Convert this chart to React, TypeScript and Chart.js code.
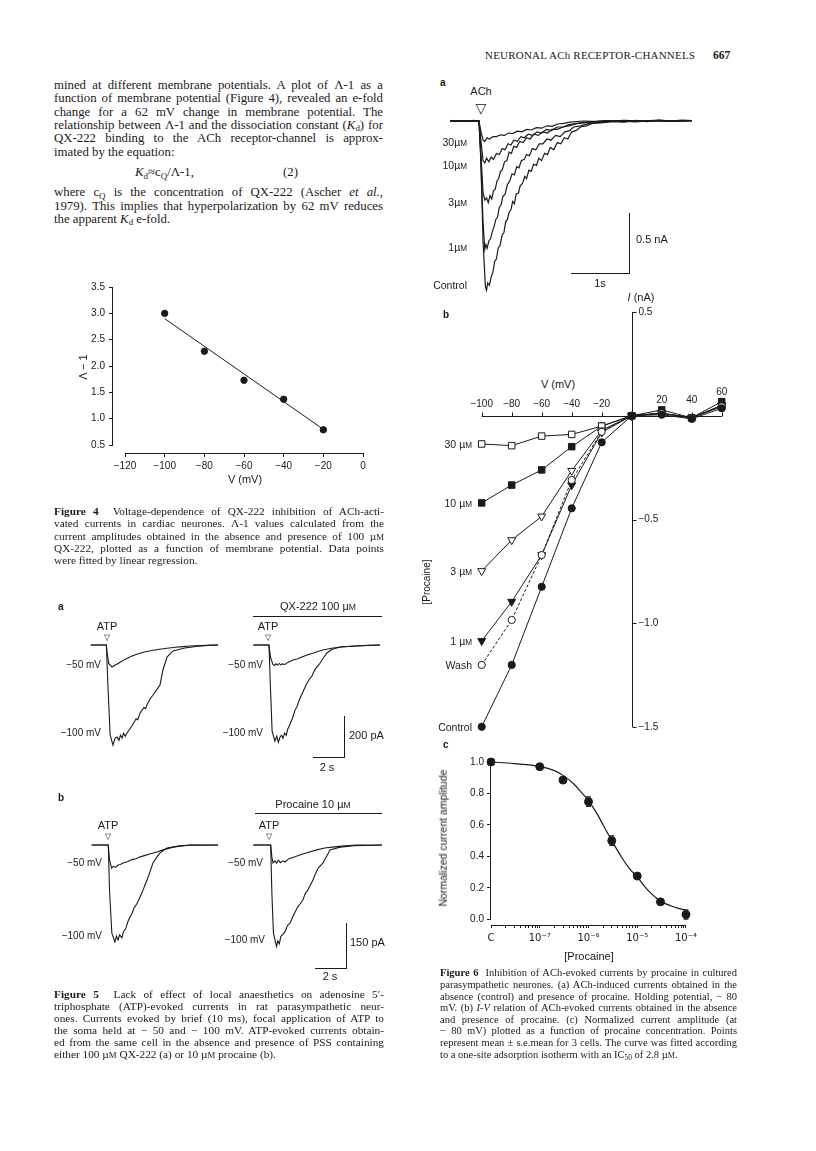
import React, { useEffect, useRef } from "react";
import { Chart, registerables } from "chart.js";
Chart.register(...registerables);

const SANS = '"Liberation Sans", Arial, Helvetica, sans-serif';
const SERIF = '"Liberation Serif", "Times New Roman", serif';
const INK = "#1a1a1a";

type Pt = [number, number];

// ---------------- Figure 4 data ----------------
const fig4Voltage = [-100, -80, -60, -40, -20];
const fig4LambdaMinus1 = [3.0, 2.28, 1.73, 1.37, 0.79];
const fig4FitVoltage = [-100, -20];
const fig4FitValues = [2.9, 0.8];
const fig4XTicks = [-120, -100, -80, -60, -40, -20, 0];
const fig4YTicks = [0.5, 1.0, 1.5, 2.0, 2.5, 3.0, 3.5];

// ---------------- Figure 6b data (I-V) ----------------
const ivVoltage = [-100, -80, -60, -40, -20, 0, 20, 40, 60];
const iv30uM = [-0.136, -0.144, -0.098, -0.09, -0.05, 0, 0.012, -0.01, 0.045];
const iv10uM = [-0.42, -0.334, -0.261, -0.149, -0.05, 0, 0.028, -0.01, 0.068];
const iv3uM = [-0.748, -0.599, -0.485, -0.265, -0.07, 0, 0.012, -0.01, 0.05];
const iv1uM = [-1.085, -0.896, -0.671, -0.334, -0.08, 0, 0.012, -0.01, 0.05];
const ivWash = [-1.201, -0.984, -0.671, -0.31, -0.077, 0, 0.012, -0.01, 0.045];
const ivControl = [-1.499, -1.201, -0.824, -0.446, -0.128, 0, 0.005, -0.015, 0.036];
const ivXTicks = [-100, -80, -60, -40, -20, 20, 40, 60];
const ivYTicks = [0.5, -0.5, -1.0, -1.5];

// ---------------- Figure 6c data (dose-response) ----------------
const doseConc = [1e-8, 1e-7, 3e-7, 1e-6, 3e-6, 1e-5, 3e-5, 1e-4];
const doseNorm = [1.0, 0.97, 0.885, 0.748, 0.5, 0.275, 0.111, 0.031];
const doseErr = [0, 0, 0, 0.03, 0.03, 0, 0, 0.03];
const fitConc = [1e-8, 3e-8, 1e-7, 2e-7, 3e-7, 5e-7, 7e-7, 1e-6, 1.5e-6, 2e-6, 3e-6, 5e-6, 7e-6, 1e-5, 1.5e-5, 2e-5, 3e-5, 5e-5, 7e-5, 1e-4];
const fitNorm = [1.0, 0.99, 0.972, 0.945, 0.915, 0.86, 0.81, 0.755, 0.67, 0.6, 0.5, 0.385, 0.32, 0.27, 0.2, 0.16, 0.115, 0.085, 0.07, 0.058];
const doseMajorTicks = [1e-8, 1e-7, 1e-6, 1e-5, 1e-4];
const doseTickLabels = ["C", "10\u207B\u2077", "10\u207B\u2076", "10\u207B\u2075", "10\u207B\u2074"];
const doseYTicks = [0, 0.2, 0.4, 0.6, 0.8, 1.0];

// ---------------- Figure 6a traces [s, nA] ----------------
const achControl: Pt[] = [[0,0.005],[0.1,-0.005],[0.2,0.004],[0.3,-0.004],[0.4,0.005],[0.5,0],[0.53,-0.3],[0.57,-1.0],[0.61,-1.38],[0.63,-1.41],[0.65,-1.35],[0.68,-1.37],[0.71,-1.3],[0.74,-1.26],[0.77,-1.17],[0.8,-1.15],[0.83,-1.06],[0.86,-1.04],[0.9,-0.95],[0.93,-0.93],[0.96,-0.84],[0.99,-0.82],[1.02,-0.76],[1.05,-0.74],[1.08,-0.67],[1.11,-0.69],[1.14,-0.61],[1.18,-0.6],[1.21,-0.54],[1.25,-0.52],[1.29,-0.46],[1.32,-0.48],[1.36,-0.41],[1.4,-0.42],[1.44,-0.36],[1.49,-0.37],[1.53,-0.31],[1.58,-0.33],[1.63,-0.27],[1.68,-0.28],[1.73,-0.22],[1.79,-0.24],[1.85,-0.18],[1.91,-0.19],[1.97,-0.14],[2.03,-0.15],[2.1,-0.09],[2.17,-0.08],[2.25,-0.05],[2.35,-0.04],[2.45,-0.02],[2.6,-0.015],[2.8,-0.005],[3.0,-0.01],[3.2,0.005],[3.4,-0.005],[3.6,0.01],[3.8,0],[4.0,0.008],[4.17,0.004]];
const ach1uM: Pt[] = [[0,0],[0.2,0.004],[0.4,-0.004],[0.5,0],[0.53,-0.3],[0.57,-0.85],[0.6,-1.07],[0.62,-1.03],[0.64,-1.06],[0.67,-1.0],[0.7,-0.98],[0.73,-0.92],[0.76,-0.88],[0.79,-0.82],[0.82,-0.8],[0.85,-0.72],[0.88,-0.7],[0.91,-0.63],[0.95,-0.61],[0.99,-0.53],[1.03,-0.5],[1.07,-0.44],[1.11,-0.45],[1.15,-0.38],[1.19,-0.39],[1.23,-0.33],[1.28,-0.32],[1.32,-0.28],[1.37,-0.29],[1.42,-0.23],[1.48,-0.24],[1.54,-0.19],[1.6,-0.19],[1.67,-0.15],[1.74,-0.16],[1.82,-0.12],[1.9,-0.13],[1.98,-0.09],[2.06,-0.08],[2.13,-0.05],[2.25,-0.04],[2.4,-0.02],[2.6,-0.01],[2.9,0],[3.2,-0.008],[3.5,0.005],[3.8,-0.004],[4.17,0.004]];
const ach3uM: Pt[] = [[0,0],[0.3,-0.004],[0.5,0],[0.53,-0.25],[0.57,-0.6],[0.6,-0.66],[0.63,-0.64],[0.66,-0.68],[0.69,-0.62],[0.72,-0.65],[0.75,-0.58],[0.78,-0.57],[0.81,-0.5],[0.84,-0.48],[0.87,-0.42],[0.9,-0.41],[0.94,-0.34],[0.98,-0.33],[1.02,-0.26],[1.06,-0.27],[1.1,-0.21],[1.15,-0.22],[1.2,-0.17],[1.26,-0.18],[1.32,-0.14],[1.38,-0.15],[1.45,-0.11],[1.52,-0.12],[1.6,-0.09],[1.68,-0.1],[1.76,-0.07],[1.85,-0.07],[1.95,-0.05],[2.05,-0.04],[2.2,-0.02],[2.4,-0.01],[2.7,0.004],[3.0,-0.005],[3.4,0.004],[3.8,-0.003],[4.17,0.002]];
const ach10uM: Pt[] = [[0,0],[0.5,0.003],[0.53,-0.15],[0.57,-0.33],[0.6,-0.35],[0.63,-0.31],[0.67,-0.34],[0.71,-0.3],[0.75,-0.32],[0.8,-0.27],[0.85,-0.28],[0.9,-0.23],[0.95,-0.24],[1.0,-0.19],[1.05,-0.2],[1.1,-0.16],[1.16,-0.17],[1.22,-0.13],[1.28,-0.14],[1.35,-0.11],[1.42,-0.12],[1.5,-0.09],[1.58,-0.1],[1.66,-0.07],[1.75,-0.08],[1.85,-0.05],[1.95,-0.05],[2.05,-0.03],[2.2,-0.02],[2.4,-0.01],[2.7,0.003],[3.1,-0.004],[3.5,0.004],[3.9,-0.002],[4.17,0.003]];
const ach30uM: Pt[] = [[0,0],[0.5,-0.003],[0.53,-0.08],[0.57,-0.16],[0.6,-0.17],[0.64,-0.14],[0.68,-0.15],[0.74,-0.13],[0.8,-0.13],[0.87,-0.115],[0.94,-0.12],[1.01,-0.1],[1.08,-0.105],[1.16,-0.085],[1.24,-0.09],[1.32,-0.07],[1.4,-0.075],[1.49,-0.055],[1.58,-0.06],[1.67,-0.04],[1.76,-0.045],[1.86,-0.025],[1.96,-0.02],[2.07,-0.01],[2.3,0],[2.6,-0.006],[3.0,0.005],[3.4,-0.003],[3.8,0.004],[4.17,0]];

// ---------------- Figure 5 traces [s, pA] ----------------
const atpA_control_m50: Pt[] = [[0,0],[0.5,0],[1.0,0],[1.05,-40],[1.15,-90],[1.36,-107],[1.5,-100],[1.7,-93],[1.9,-83],[2.06,-75],[2.3,-66],[2.6,-55],[2.9,-46],[3.15,-40],[3.5,-33],[3.9,-27],[4.4,-21],[4.87,-16],[5.4,-11],[5.9,-8],[6.34,-5],[7.0,-3],[7.6,-1],[8.13,0]];
const atpA_control_m100: Pt[] = [[0,0],[1.0,0],[1.1,-200],[1.24,-439],[1.42,-488],[1.55,-455],[1.68,-449],[1.8,-465],[1.9,-440],[2.0,-454],[2.1,-430],[2.2,-445],[2.32,-429],[2.5,-410],[2.7,-385],[2.9,-360],[3.0,-365],[3.15,-332],[3.4,-305],[3.5,-310],[3.6,-290],[3.8,-262],[3.98,-244],[4.2,-220],[4.42,-195],[4.61,-122],[4.87,-59],[5.25,-29],[6.0,-15],[6.97,-5],[7.5,-2],[8.13,0]];
const atpA_qx_m50: Pt[] = [[0,0],[1.0,0],[1.1,-60],[1.25,-95],[1.35,-100],[1.45,-92],[1.55,-98],[1.65,-90],[1.75,-97],[1.85,-92],[2.02,-95],[2.2,-85],[2.4,-78],[2.53,-73],[2.8,-68],[3.1,-58],[3.43,-49],[3.8,-40],[4.1,-32],[4.45,-24],[5.0,-16],[5.6,-10],[6.1,-7],[6.6,-5],[7.3,-2],[8.09,0]];
const atpA_qx_m100: Pt[] = [[0,0],[1.0,0],[1.1,-220],[1.2,-420],[1.38,-468],[1.5,-445],[1.6,-475],[1.7,-450],[1.8,-440],[1.9,-455],[2.0,-430],[2.1,-440],[2.2,-410],[2.35,-385],[2.53,-351],[2.65,-320],[2.79,-300],[2.95,-265],[3.1,-240],[3.25,-215],[3.43,-185],[3.6,-165],[3.75,-150],[3.9,-125],[4.06,-107],[4.2,-95],[4.35,-78],[4.5,-60],[4.7,-39],[5.0,-22],[5.53,-10],[6.2,-6],[6.8,-4],[8.09,0]];
const atpB_control_m50: Pt[] = [[0,0],[1.0,0],[1.07,0],[1.15,-50],[1.29,-76],[1.4,-70],[1.55,-73],[1.7,-66],[1.85,-64],[2.02,-59],[2.3,-55],[2.6,-48],[2.85,-45],[3.12,-39],[3.4,-35],[3.8,-29],[4.21,-23],[4.6,-16],[4.9,-12],[5.25,-7],[5.8,-3],[6.34,0],[7.2,-1],[8.15,0]];
const atpB_control_m100: Pt[] = [[0,0],[1.07,0],[1.15,-150],[1.3,-290],[1.5,-319],[1.6,-300],[1.7,-312],[1.8,-296],[1.95,-305],[2.05,-285],[2.2,-275],[2.35,-250],[2.47,-237],[2.6,-225],[2.75,-205],[2.9,-195],[3.12,-171],[3.3,-150],[3.45,-130],[3.57,-115],[3.75,-90],[3.95,-59],[4.2,-40],[4.41,-26],[4.86,-10],[5.7,-3],[6.5,0],[8.15,0]];
const atpB_proc_m50: Pt[] = [[0,0],[1.12,0],[1.2,-40],[1.27,-59],[1.4,-52],[1.5,-60],[1.62,-50],[1.75,-58],[1.9,-52],[2.03,-56],[2.3,-45],[2.6,-40],[3.0,-33],[3.5,-25],[4.1,-16],[4.6,-10],[5.1,-7],[5.9,-3],[6.7,0],[7.5,-1],[8.3,0]];
const atpB_proc_m100: Pt[] = [[0,0],[1.12,0],[1.2,-160],[1.3,-290],[1.5,-334],[1.58,-315],[1.68,-325],[1.78,-300],[1.9,-295],[2.05,-285],[2.2,-265],[2.37,-257],[2.55,-235],[2.7,-220],[2.85,-205],[3.0,-195],[3.2,-181],[3.35,-160],[3.5,-150],[3.65,-135],[3.85,-115],[4.0,-95],[4.2,-75],[4.5,-59],[4.75,-35],[4.95,-16],[5.6,-7],[6.5,-2],[8.3,0]];

// ---------------- helpers ----------------
const minus = (v: number) => (v < 0 ? "\u2212" + Math.abs(v) : String(v));
const tickFont = { family: SANS, size: 10 };

const detachedAxes = {
  id: "detachedAxes",
  afterDraw(chart: any) {
    const { ctx, chartArea, scales } = chart;
    const x = scales.x, y = scales.y;
    const xt = x.ticks, yt = y.ticks;
    ctx.save();
    ctx.strokeStyle = INK;
    ctx.lineWidth = 1;
    ctx.beginPath();
    ctx.moveTo(x.getPixelForValue(xt[0].value), chartArea.bottom + 0.5);
    ctx.lineTo(x.getPixelForValue(xt[xt.length - 1].value), chartArea.bottom + 0.5);
    ctx.moveTo(chartArea.left - 0.5, y.getPixelForValue(yt[0].value));
    ctx.lineTo(chartArea.left - 0.5, y.getPixelForValue(yt[yt.length - 1].value));
    ctx.stroke();
    ctx.restore();
  },
};

function ChartBox({ box, config }: any) {
  const ref = useRef<HTMLCanvasElement | null>(null);
  useEffect(() => {
    if (!ref.current) return;
    const chart = new Chart(ref.current, config());
    return () => chart.destroy();
  }, []);
  return (
    <canvas
      ref={ref}
      width={box.w}
      height={box.h}
      style={{ position: "absolute", left: box.l, top: box.t, width: box.w, height: box.h }}
    />
  );
}

function traceConfig(frame: any, traces: Pt[][], lw = 1.1) {
  const { X0, Y0, sx, sy, l, t, w, h } = frame;
  return {
    type: "line",
    data: {
      datasets: traces.map((tr) => ({
        data: tr.map(([x, y]) => ({ x, y })),
        borderColor: INK,
        borderWidth: lw,
        pointRadius: 0,
        tension: 0,
        fill: false,
        clip: false,
      })),
    },
    options: {
      responsive: false,
      animation: false,
      events: [],
      layout: { padding: 0, autoPadding: false },
      plugins: { legend: { display: false }, tooltip: { enabled: false } },
      scales: {
        x: { type: "linear", display: false, min: (l - X0) / sx, max: (l + w - X0) / sx },
        y: { type: "linear", display: false, min: (Y0 - t - h) / sy, max: (Y0 - t) / sy },
      },
    },
  };
}

function fig4Config() {
  return {
    type: "line",
    data: {
      datasets: [
        {
          data: fig4FitVoltage.map((v, i) => ({ x: v, y: fig4FitValues[i] })),
          borderColor: INK,
          borderWidth: 1,
          pointRadius: 0,
          clip: false,
        },
        {
          data: fig4Voltage.map((v, i) => ({ x: v, y: fig4LambdaMinus1[i] })),
          showLine: false,
          pointRadius: 3.2,
          pointBorderWidth: 1,
          pointBackgroundColor: INK,
          pointBorderColor: INK,
          clip: false,
        },
      ],
    },
    options: {
      responsive: false,
      animation: false,
      events: [],
      layout: { padding: { left: 0, top: 8, right: 12, bottom: 0 }, autoPadding: false },
      plugins: { legend: { display: false }, tooltip: { enabled: false } },
      scales: {
        x: {
          type: "linear",
          min: -126.06,
          max: 0,
          afterBuildTicks: (s: any) => { s.ticks = fig4XTicks.map((v) => ({ value: v })); },
          afterFit: (s: any) => { s.height = 22; },
          border: { display: false },
          grid: { drawOnChartArea: false, tickLength: 4, color: INK },
          ticks: { callback: (v: number) => minus(v), font: tickFont, color: INK, padding: 3, autoSkip: false, maxRotation: 0 },
        },
        y: {
          type: "linear",
          min: 0.35,
          max: 3.5,
          afterBuildTicks: (s: any) => { s.ticks = fig4YTicks.map((v) => ({ value: v })); },
          afterFit: (s: any) => { s.width = 40; },
          border: { display: false },
          grid: { drawOnChartArea: false, tickLength: 4, color: INK },
          ticks: { callback: (v: number) => v.toFixed(1), font: tickFont, color: INK, padding: 4, autoSkip: false },
        },
      },
    },
    plugins: [detachedAxes],
  };
}

const ivAxes = {
  id: "ivAxes",
  beforeDatasetsDraw(chart: any) {
    const { ctx, scales } = chart;
    const x = scales.x, y = scales.y;
    const x0 = Math.round(x.getPixelForValue(0)) + 0.5;
    const y0 = Math.round(y.getPixelForValue(0)) + 0.5;
    ctx.save();
    ctx.strokeStyle = INK;
    ctx.lineWidth = 1;
    ctx.beginPath();
    ctx.moveTo(x.getPixelForValue(ivXTicks[0]), y0);
    ctx.lineTo(x.getPixelForValue(ivXTicks[ivXTicks.length - 1]), y0);
    ctx.moveTo(x0, y.getPixelForValue(ivYTicks[0]));
    ctx.lineTo(x0, y.getPixelForValue(ivYTicks[ivYTicks.length - 1]));
    ivXTicks.forEach((t) => {
      const px = Math.round(x.getPixelForValue(t)) + 0.5;
      ctx.moveTo(px, y0);
      ctx.lineTo(px, y0 - 4);
    });
    ivYTicks.forEach((t) => {
      const py = Math.round(y.getPixelForValue(t)) + 0.5;
      ctx.moveTo(x0, py);
      ctx.lineTo(x0 + 4, py);
    });
    ctx.stroke();
    ctx.fillStyle = INK;
    ctx.font = `10px ${SANS}`;
    ctx.textBaseline = "middle";
    ctx.textAlign = "center";
    ivXTicks.forEach((t) => {
      const off = t < 0 ? 12 : t === 60 ? 24 : 16;
      ctx.fillText(minus(t), x.getPixelForValue(t), y0 - off);
    });
    ctx.textAlign = "left";
    ivYTicks.forEach((t) => {
      const lab = t < 0 ? "\u2212" + Math.abs(t).toFixed(1) : t.toFixed(1);
      ctx.fillText(lab, x0 + 6, y.getPixelForValue(t));
    });
    ctx.restore();
  },
};

function ivConfig() {
  const mk = (vals: number[], ps: string, r: number, fill: string, rot = 0, dash: number[] = []) => ({
    data: ivVoltage.map((v, i) => ({ x: v, y: vals[i] })),
    borderColor: INK,
    borderWidth: 1,
    borderDash: dash,
    pointStyle: ps,
    pointRadius: r,
    pointRotation: rot,
    pointBackgroundColor: fill,
    pointBorderColor: INK,
    pointBorderWidth: 1,
    tension: 0,
    clip: false,
  });
  return {
    type: "line",
    data: {
      datasets: [
        mk(ivControl, "circle", 3.6, INK),
        mk(ivWash, "circle", 3.6, "#fff", 0, [3, 2]),
        mk(iv1uM, "triangle", 4.6, INK, 180),
        mk(iv3uM, "triangle", 4.6, "#fff", 180),
        mk(iv30uM, "rect", 4.6, "#fff"),
        mk(iv10uM, "rect", 4.6, INK),
      ],
    },
    options: {
      responsive: false,
      animation: false,
      events: [],
      layout: { padding: { left: 11.7, right: 13.3, top: 12, bottom: 13 }, autoPadding: false },
      plugins: { legend: { display: false }, tooltip: { enabled: false } },
      scales: {
        x: { type: "linear", display: false, min: -100, max: 60 },
        y: { type: "linear", display: false, min: -1.5, max: 0.5 },
      },
    },
    plugins: [ivAxes],
  };
}

const errorBars = {
  id: "errorBars",
  afterDatasetsDraw(chart: any) {
    const { ctx, scales } = chart;
    const x = scales.x, y = scales.y;
    ctx.save();
    ctx.strokeStyle = INK;
    ctx.lineWidth = 1.2;
    ctx.beginPath();
    doseConc.forEach((c, i) => {
      const e = doseErr[i];
      if (!e) return;
      const px = x.getPixelForValue(c);
      const top = y.getPixelForValue(doseNorm[i] + e);
      const bot = y.getPixelForValue(doseNorm[i] - e);
      ctx.moveTo(px, top); ctx.lineTo(px, bot);
      ctx.moveTo(px - 2.5, top); ctx.lineTo(px + 2.5, top);
      ctx.moveTo(px - 2.5, bot); ctx.lineTo(px + 2.5, bot);
    });
    ctx.stroke();
    ctx.restore();
  },
};

function doseConfig() {
  const logTicks: number[] = [];
  doseMajorTicks.forEach((d, i) => {
    if (i === doseMajorTicks.length - 1) { logTicks.push(d); return; }
    for (let k = 1; k <= 9; k++) logTicks.push(k * d);
  });
  const labelFor = (v: number) => {
    const i = doseMajorTicks.findIndex((m) => Math.abs(Math.log10(m) - Math.log10(v)) < 1e-6);
    return i >= 0 ? doseTickLabels[i] : "";
  };
  return {
    type: "line",
    data: {
      datasets: [
        {
          data: fitConc.map((c, i) => ({ x: c, y: fitNorm[i] })),
          borderColor: INK,
          borderWidth: 1.2,
          pointRadius: 0,
          cubicInterpolationMode: "monotone",
          clip: false,
        },
        {
          data: doseConc.map((c, i) => ({ x: c, y: doseNorm[i] })),
          showLine: false,
          pointRadius: 4,
          pointBorderWidth: 1,
          pointBackgroundColor: INK,
          pointBorderColor: INK,
          clip: false,
        },
      ],
    },
    options: {
      responsive: false,
      animation: false,
      events: [],
      layout: { padding: { left: 0, top: 8, right: 14, bottom: 0 }, autoPadding: false },
      plugins: { legend: { display: false }, tooltip: { enabled: false } },
      scales: {
        x: {
          type: "logarithmic",
          min: 1e-8,
          max: 1e-4,
          afterBuildTicks: (s: any) => { s.ticks = logTicks.map((v) => ({ value: v })); },
          afterFit: (s: any) => { s.height = 30; },
          border: { display: false },
          grid: { drawOnChartArea: false, tickLength: 3, color: INK },
          ticks: { callback: (v: number) => labelFor(v), font: { family: '"DejaVu Sans", sans-serif', size: 10 }, color: INK, padding: 4, autoSkip: false, maxRotation: 0 },
        },
        y: {
          type: "linear",
          min: -0.036,
          max: 1.0,
          afterBuildTicks: (s: any) => { s.ticks = doseYTicks.map((v) => ({ value: v })); },
          afterFit: (s: any) => { s.width = 45; },
          border: { display: false },
          grid: { drawOnChartArea: false, tickLength: 4, color: INK },
          ticks: { callback: (v: number) => v.toFixed(1), font: tickFont, color: INK, padding: 3, autoSkip: false },
        },
      },
    },
    plugins: [detachedAxes, errorBars],
  };
}

// ---------------- text helpers ----------------
function Txt({ x, y, size = 10, font = SANS, align = "left", bold = false, italic = false, w = 200, children }: any) {
  let left = x;
  if (align === "center") left = x - w / 2;
  else if (align === "right") left = x - w;
  return (
    <div
      style={{
        position: "absolute",
        left,
        top: y - size * 0.6,
        width: w,
        textAlign: align,
        fontFamily: font,
        fontSize: size,
        lineHeight: `${size * 1.15}px`,
        fontWeight: bold ? 700 : 400,
        fontStyle: italic ? "italic" : "normal",
        whiteSpace: "nowrap",
        color: INK,
      }}
    >
      {children}
    </div>
  );
}

function RotTxt({ x, y, size = 10, children }: any) {
  return (
    <div
      style={{
        position: "absolute",
        left: x,
        top: y,
        transform: "translate(-50%, -50%) rotate(-90deg)",
        fontFamily: SANS,
        fontSize: size,
        whiteSpace: "nowrap",
        color: INK,
        lineHeight: 1,
      }}
    >
      {children}
    </div>
  );
}

function JLine({ x, y, w, size, justify = true, children }: any) {
  return (
    <div
      style={{
        position: "absolute",
        left: x,
        top: y - size * 0.62,
        width: w,
        fontFamily: SERIF,
        fontSize: size,
        lineHeight: `${size * 1.15}px`,
        whiteSpace: "nowrap",
        textAlign: justify ? "justify" : "left",
        textAlignLast: justify ? "justify" : "left",
        color: INK,
      } as any}
    >
      {children}
    </div>
  );
}

function Bar({ x1, y1, x2, y2 }: any) {
  return (
    <div
      style={{
        position: "absolute",
        left: Math.min(x1, x2),
        top: Math.min(y1, y2),
        width: Math.max(1, Math.abs(x2 - x1)),
        height: Math.max(1, Math.abs(y2 - y1)),
        background: INK,
      }}
    />
  );
}

const UM = () => (
  <>
    µ<span style={{ fontSize: "0.78em" }}>M</span>
  </>
);
const Sub = ({ children }: any) => (
  <span style={{ fontSize: "0.7em", position: "relative", top: "0.25em" }}>{children}</span>
);

// ---------------- layout frames ----------------
const fig4Box = { l: 73, t: 277, w: 302, h: 198 };
const ivBox = { l: 470, t: 300, w: 265, h: 440 };
const doseBox = { l: 446, t: 753, w: 255, h: 202 };
const achFrame = { X0: 450, Y0: 121, sx: 58, sy: 120, l: 445, t: 112, w: 255, h: 185 };
const f5aL = { X0: 90.7, Y0: 645, sx: 15.67, sy: 0.205, l: 86, t: 636, w: 140, h: 118 };
const f5aR = { X0: 253.3, Y0: 645, sx: 15.67, sy: 0.205, l: 249, t: 636, w: 140, h: 118 };
const f5bL = { X0: 91.7, Y0: 845, sx: 15.5, sy: 0.304, l: 86, t: 836, w: 140, h: 118 };
const f5bR = { X0: 253.3, Y0: 845, sx: 15.5, sy: 0.304, l: 249, t: 836, w: 140, h: 118 };

export default function App() {
  const bodyX = 54, bodyW = 329, bodyS = 12.8;
  const capS = 11.3;
  const c6S = 10.5;
  return (
    <div style={{ position: "absolute", left: 0, top: 0, width: 816, height: 1151, background: "#fff", overflow: "hidden" }}>
      {/* header */}
      <Txt x={485} y={56} size={11} font={SERIF} w={230}>
        <span style={{ letterSpacing: "0.2px" }}>NEURONAL ACh RECEPTOR-CHANNELS</span>
      </Txt>
      <Txt x={713} y={56} size={11.5} font={SERIF} bold w={40}>667</Txt>

      {/* body text */}
      <JLine x={bodyX} y={86} w={bodyW} size={bodyS}>mined at different membrane potentials. A plot of Λ-1 as a</JLine>
      <JLine x={bodyX} y={99.3} w={bodyW} size={bodyS}>function of membrane potential (Figure 4), revealed an e-fold</JLine>
      <JLine x={bodyX} y={112.7} w={bodyW} size={bodyS}>change for a 62 mV change in membrane potential. The</JLine>
      <JLine x={bodyX} y={126} w={bodyW} size={bodyS}>relationship between Λ-1 and the dissociation constant (<i>K</i><Sub>d</Sub>) for</JLine>
      <JLine x={bodyX} y={139.3} w={bodyW} size={bodyS}>QX-222 binding to the ACh receptor-channel is approx-</JLine>
      <JLine x={bodyX} y={152.7} w={bodyW} size={bodyS} justify={false}>imated by the equation:</JLine>
      <Txt x={135} y={173} size={bodyS} font={SERIF} w={120}>
        <i>K</i><Sub>d</Sub>≈c<Sub>Q</Sub>/Λ-1,
      </Txt>
      <Txt x={283} y={173} size={bodyS} font={SERIF} w={40}>(2)</Txt>
      <JLine x={bodyX} y={193.3} w={bodyW} size={bodyS}>where c<Sub>Q</Sub> is the concentration of QX-222 (Ascher <i>et al.</i>,</JLine>
      <JLine x={bodyX} y={206.7} w={bodyW} size={bodyS}>1979). This implies that hyperpolarization by 62 mV reduces</JLine>
      <JLine x={bodyX} y={220} w={bodyW} size={bodyS} justify={false}>the apparent <i>K</i><Sub>d</Sub> e-fold.</JLine>

      {/* Figure 4 */}
      <ChartBox box={fig4Box} config={fig4Config} />
      <RotTxt x={83} y={367} size={11}>Λ − 1</RotTxt>
      <Txt x={245} y={480} size={11} align="center" w={80}>V (mV)</Txt>

      <JLine x={54} y={512} w={330} size={capS}><b>Figure 4</b>&nbsp; Voltage-dependence of QX-222 inhibition of ACh-acti-</JLine>
      <JLine x={54} y={524.3} w={330} size={capS}>vated currents in cardiac neurones. Λ-1 values calculated from the</JLine>
      <JLine x={54} y={536.6} w={330} size={capS}>current amplitudes obtained in the absence and presence of 100 <UM /></JLine>
      <JLine x={54} y={548.9} w={330} size={capS}>QX-222, plotted as a function of membrane potential. Data points</JLine>
      <JLine x={54} y={561.2} w={330} size={capS} justify={false}>were fitted by linear regression.</JLine>

      {/* Figure 5a */}
      <Txt x={58} y={607} size={10} bold w={20}>a</Txt>
      <Txt x={318} y={607} size={11} align="center" w={140}>QX-222 100 <UM /></Txt>
      <Bar x1={253} y1={616} x2={382} y2={617} />
      <Txt x={107} y={627} size={11} align="center" w={40}>ATP</Txt>
      <Txt x={107} y={638} size={8} align="center" w={20}>▽</Txt>
      <Txt x={268} y={627} size={11} align="center" w={40}>ATP</Txt>
      <Txt x={268} y={638} size={8} align="center" w={20}>▽</Txt>
      <ChartBox box={f5aL} config={() => traceConfig(f5aL, [atpA_control_m50, atpA_control_m100])} />
      <ChartBox box={f5aR} config={() => traceConfig(f5aR, [atpA_qx_m50, atpA_qx_m100])} />
      <Txt x={101} y={665} size={10} align="right" w={60}>−50 mV</Txt>
      <Txt x={263} y={665} size={10} align="right" w={60}>−50 mV</Txt>
      <Txt x={101} y={733} size={10} align="right" w={60}>−100 mV</Txt>
      <Txt x={263} y={733} size={10} align="right" w={60}>−100 mV</Txt>
      <Bar x1={344} y1={716} x2={345} y2={758} />
      <Bar x1={313} y1={757} x2={345} y2={758} />
      <Txt x={349} y={736} size={11} w={60}>200 pA</Txt>
      <Txt x={327} y={768} size={11} align="center" w={40}>2 s</Txt>

      {/* Figure 5b */}
      <Txt x={58} y={798} size={10} bold w={20}>b</Txt>
      <Txt x={313} y={805} size={11} align="center" w={140}>Procaine 10 <UM /></Txt>
      <Bar x1={255} y1={813} x2={382} y2={814} />
      <Txt x={108} y={826} size={11} align="center" w={40}>ATP</Txt>
      <Txt x={108} y={837} size={8} align="center" w={20}>▽</Txt>
      <Txt x={269} y={826} size={11} align="center" w={40}>ATP</Txt>
      <Txt x={269} y={837} size={8} align="center" w={20}>▽</Txt>
      <ChartBox box={f5bL} config={() => traceConfig(f5bL, [atpB_control_m50, atpB_control_m100])} />
      <ChartBox box={f5bR} config={() => traceConfig(f5bR, [atpB_proc_m50, atpB_proc_m100])} />
      <Txt x={102} y={863} size={10} align="right" w={60}>−50 mV</Txt>
      <Txt x={263} y={863} size={10} align="right" w={60}>−50 mV</Txt>
      <Txt x={102} y={936} size={10} align="right" w={60}>−100 mV</Txt>
      <Txt x={265} y={940} size={10} align="right" w={60}>−100 mV</Txt>
      <Bar x1={346} y1={923} x2={347} y2={969} />
      <Bar x1={315} y1={968} x2={347} y2={969} />
      <Txt x={350} y={943} size={11} w={60}>150 pA</Txt>
      <Txt x={330} y={977} size={11} align="center" w={40}>2 s</Txt>

      <JLine x={54} y={995} w={330} size={capS}><b>Figure 5</b>&nbsp; Lack of effect of local anaesthetics on adenosine 5′-</JLine>
      <JLine x={54} y={1007.1} w={330} size={capS}>triphosphate (ATP)-evoked currents in rat parasympathetic neur-</JLine>
      <JLine x={54} y={1019.2} w={330} size={capS}>ones. Currents evoked by brief (10 ms), focal application of ATP to</JLine>
      <JLine x={54} y={1031.3} w={330} size={capS}>the soma held at − 50 and − 100 mV. ATP-evoked currents obtain-</JLine>
      <JLine x={54} y={1043.4} w={330} size={capS}>ed from the same cell in the absence and presence of PSS containing</JLine>
      <JLine x={54} y={1055.5} w={330} size={capS} justify={false}>either 100 <UM /> QX-222 (a) or 10 <UM /> procaine (b).</JLine>

      {/* Figure 6a */}
      <Txt x={440} y={83} size={10} bold w={20}>a</Txt>
      <Txt x={481} y={92} size={11} align="center" w={40}>ACh</Txt>
      <Txt x={481} y={108} size={14} align="center" w={30} font={'"DejaVu Sans", sans-serif'}>▽</Txt>
      <ChartBox box={achFrame} config={() => traceConfig(achFrame, [achControl, ach1uM, ach3uM, ach10uM, ach30uM], 1.2)} />
      <Txt x={467} y={142} size={10.5} align="right" w={60}>30<UM /></Txt>
      <Txt x={467} y={165} size={10.5} align="right" w={60}>10<UM /></Txt>
      <Txt x={467} y={202} size={10.5} align="right" w={60}>3<UM /></Txt>
      <Txt x={467} y={247} size={10.5} align="right" w={60}>1<UM /></Txt>
      <Txt x={467} y={285} size={10.5} align="right" w={60}>Control</Txt>
      <Bar x1={629} y1={213} x2={630} y2={274} />
      <Bar x1={571} y1={273} x2={630} y2={274} />
      <Txt x={636} y={240} size={11} w={60}>0.5 nA</Txt>
      <Txt x={600} y={284} size={11} align="center" w={30}>1s</Txt>

      {/* Figure 6b */}
      <Txt x={443} y={315} size={10} bold w={20}>b</Txt>
      <Txt x={641} y={298} size={11} align="center" w={50}><i>I</i> (nA)</Txt>
      <Txt x={558} y={385} size={11} align="center" w={60}>V (mV)</Txt>
      <ChartBox box={ivBox} config={ivConfig} />
      <Txt x={472} y={444} size={10.5} align="right" w={60}>30 <UM /></Txt>
      <Txt x={472} y={503} size={10.5} align="right" w={60}>10 <UM /></Txt>
      <Txt x={472} y={571} size={10.5} align="right" w={60}>3 <UM /></Txt>
      <Txt x={472} y={641} size={10.5} align="right" w={60}>1 <UM /></Txt>
      <Txt x={472} y={665} size={10.5} align="right" w={60}>Wash</Txt>
      <Txt x={472} y={727} size={10.5} align="right" w={60}>Control</Txt>
      <RotTxt x={427} y={582} size={10}>[Procaine]</RotTxt>

      {/* Figure 6c */}
      <Txt x={443} y={745} size={10} bold w={20}>c</Txt>
      <ChartBox box={doseBox} config={doseConfig} />
      <RotTxt x={443} y={838} size={10.5}>Normalized current amplitude</RotTxt>
      <Txt x={589} y={957} size={11} align="center" w={80}>[Procaine]</Txt>

      <JLine x={440} y={974} w={297} size={c6S}><b>Figure 6</b>&nbsp; Inhibition of ACh-evoked currents by procaine in cultured</JLine>
      <JLine x={440} y={985.6} w={297} size={c6S}>parasympathetic neurones. (a) ACh-induced currents obtained in the</JLine>
      <JLine x={440} y={997.2} w={297} size={c6S}>absence (control) and presence of procaine. Holding potential, − 80</JLine>
      <JLine x={440} y={1008.8} w={297} size={c6S}>mV. (b) <i>I-V</i> relation of ACh-evoked currents obtained in the absence</JLine>
      <JLine x={440} y={1020.4} w={297} size={c6S}>and presence of procaine. (c) Normalized current amplitude (at</JLine>
      <JLine x={440} y={1032} w={297} size={c6S}>− 80 mV) plotted as a function of procaine concentration. Points</JLine>
      <JLine x={440} y={1043.6} w={297} size={c6S}>represent mean ± s.e.mean for 3 cells. The curve was fitted according</JLine>
      <JLine x={440} y={1055.2} w={297} size={c6S} justify={false}>to a one-site adsorption isotherm with an IC<Sub>50</Sub> of 2.8 <UM />.</JLine>
    </div>
  );
}
